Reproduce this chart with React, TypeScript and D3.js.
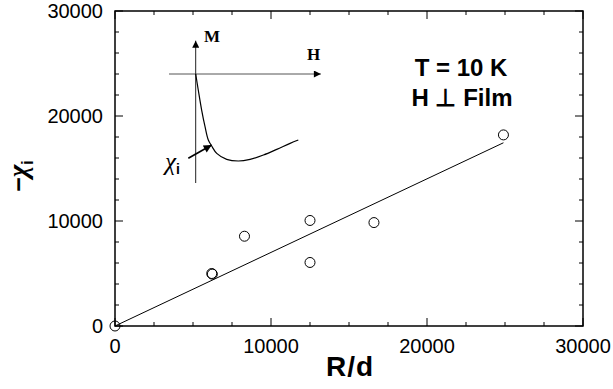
import * as d3 from "d3";
import React, { useEffect, useRef } from "react";

// measured points (R/d, -chi_i)
const rdValues = [0, 6200, 6240, 8300, 12500, 12500, 16600, 24900];
const chiValues = [0, 5000, 4940, 8550, 10050, 6050, 9850, 18200];

// linear fit drawn through the data
const fitRd = [0, 24900];
const fitChi = [0, 17450];

const xTicksMajor = [0, 10000, 20000, 30000];
const yTicksMajor = [0, 10000, 20000, 30000];

// inset sketch: M(H) curve in arbitrary units
const insetH = [0, 0.025, 0.058, 0.091, 0.123, 0.156, 0.205, 0.302, 0.416, 0.53, 0.66, 0.79, 0.92, 1.0];
const insetM = [0, -0.184, -0.414, -0.606, -0.759, -0.828, -0.912, -0.981, -1.0, -0.981, -0.931, -0.866, -0.797, -0.759];

const App: React.FC = () => {
  const ref = useRef<SVGSVGElement>(null);

  useEffect(() => {
    const svg = d3.select(ref.current).html("");

    const left = 115, right = 583, top = 11, bottom = 326;
    const x = d3.scaleLinear().domain([0, 30000]).range([left, right]);
    const y = d3.scaleLinear().domain([0, 30000]).range([bottom, top]);

    const minorX = d3.range(0, 30001, 2500);
    const minorY = d3.range(0, 30001, 2000);

    const font = "'Liberation Sans', Arial, sans-serif";
    const serif = "'Liberation Serif', 'Times New Roman', serif";

    // frame
    svg.append("rect")
      .attr("x", left).attr("y", top)
      .attr("width", right - left).attr("height", bottom - top)
      .attr("fill", "none").attr("stroke", "#000").attr("stroke-width", 1.5);

    const ticks = svg.append("g").attr("stroke", "#000").attr("stroke-width", 1);
    minorX.forEach((v) => {
      const len = v % 10000 === 0 ? 8 : 4;
      ticks.append("line").attr("x1", x(v)).attr("x2", x(v)).attr("y1", bottom).attr("y2", bottom - len);
      ticks.append("line").attr("x1", x(v)).attr("x2", x(v)).attr("y1", top).attr("y2", top + len);
    });
    minorY.forEach((v) => {
      const len = v % 10000 === 0 ? 8 : 4;
      ticks.append("line").attr("x1", left).attr("x2", left + len).attr("y1", y(v)).attr("y2", y(v));
      ticks.append("line").attr("x1", right).attr("x2", right - len).attr("y1", y(v)).attr("y2", y(v));
    });

    // tick labels
    svg.append("g").selectAll("text").data(xTicksMajor).enter().append("text")
      .attr("x", (d) => x(d)).attr("y", 353)
      .attr("text-anchor", "middle")
      .attr("font-family", font).attr("font-size", 20)
      .text((d) => String(d));

    svg.append("g").selectAll("text").data(yTicksMajor).enter().append("text")
      .attr("x", 103).attr("y", (d) => y(d) + 7)
      .attr("text-anchor", "end")
      .attr("font-family", font).attr("font-size", 20)
      .text((d) => String(d));

    // axis titles
    svg.append("text")
      .attr("x", 350).attr("y", 376)
      .attr("text-anchor", "middle")
      .attr("font-family", font).attr("font-size", 28).attr("font-weight", "bold")
      .attr("letter-spacing", 1)
      .text("R/d");

    const yl = svg.append("text")
      .attr("transform", "translate(27,176) rotate(-90)")
      .attr("text-anchor", "middle")
      .attr("font-family", font).attr("font-size", 25).attr("font-weight", "bold");
    yl.append("tspan").text("−");
    yl.append("tspan").attr("font-family", serif).attr("font-style", "italic").attr("font-size", 27).text("χ");
    yl.append("tspan").attr("font-size", 16).attr("dy", 6).text("i");

    // annotations
    svg.append("text")
      .attr("x", 461).attr("y", 76)
      .attr("text-anchor", "middle")
      .attr("font-family", font).attr("font-size", 24).attr("font-weight", "bold")
      .text("T = 10 K");
    svg.append("text")
      .attr("x", 462).attr("y", 106)
      .attr("text-anchor", "middle")
      .attr("font-family", font).attr("font-size", 24).attr("font-weight", "bold")
      .text("H ⊥ Film");

    // fit line
    const line = d3.line<number>().x((d) => x(fitRd[d])).y((d) => y(fitChi[d]));
    svg.append("path")
      .attr("d", line(fitRd.map((_, i) => i)))
      .attr("fill", "none").attr("stroke", "#000").attr("stroke-width", 1);

    // data points
    svg.append("g").selectAll("circle").data(rdValues).enter().append("circle")
      .attr("cx", (d) => x(d)).attr("cy", (_, i) => y(chiValues[i]))
      .attr("r", 5)
      .attr("fill", "none").attr("stroke", "#000").attr("stroke-width", 1);

    // inset
    const ix = d3.scaleLinear().domain([0, 1]).range([195.7, 298.3]);
    const iy = d3.scaleLinear().domain([0, -1]).range([74, 161]);

    const defs = svg.append("defs");
    defs.append("marker")
      .attr("id", "ah").attr("viewBox", "0 0 10 10")
      .attr("refX", 10).attr("refY", 5)
      .attr("markerWidth", 9).attr("markerHeight", 7)
      .attr("markerUnits", "userSpaceOnUse")
      .attr("orient", "auto")
      .append("path").attr("d", "M0,0L10,5L0,10Z").attr("fill", "#000");

    const inset = svg.append("g");
    inset.append("line")
      .attr("x1", ix(-0.26)).attr("x2", ix(1.22)).attr("y1", iy(0)).attr("y2", iy(0))
      .attr("stroke", "#555").attr("stroke-width", 1).attr("marker-end", "url(#ah)");
    inset.append("line")
      .attr("x1", ix(0)).attr("x2", ix(0)).attr("y1", iy(-1.253)).attr("y2", iy(0.383))
      .attr("stroke", "#222").attr("stroke-width", 1).attr("marker-end", "url(#ah)");

    const curve = d3.line<number>()
      .x((d) => ix(insetH[d])).y((d) => iy(insetM[d]))
      .curve(d3.curveCatmullRom);
    inset.append("path")
      .attr("d", curve(insetH.map((_, i) => i)))
      .attr("fill", "none").attr("stroke", "#000").attr("stroke-width", 1.2);

    defs.append("marker")
      .attr("id", "ah2").attr("viewBox", "0 0 10 10")
      .attr("refX", 10).attr("refY", 5)
      .attr("markerWidth", 12).attr("markerHeight", 8)
      .attr("markerUnits", "userSpaceOnUse")
      .attr("orient", "auto")
      .append("path").attr("d", "M0,0L10,5L0,10Z").attr("fill", "#000");
    inset.append("line")
      .attr("x1", ix(-0.072)).attr("y1", iy(-0.969))
      .attr("x2", ix(0.156)).attr("y2", iy(-0.816))
      .attr("stroke", "#000").attr("stroke-width", 1.6).attr("marker-end", "url(#ah2)");

    inset.append("text")
      .attr("x", 204).attr("y", 42)
      .attr("font-family", serif)
      .attr("font-size", 17).attr("font-weight", "bold")
      .text("M");
    inset.append("text")
      .attr("x", 307).attr("y", 60)
      .attr("font-family", serif)
      .attr("font-size", 17).attr("font-weight", "bold")
      .text("H");

    const chi = inset.append("text")
      .attr("x", 165).attr("y", 170)
      .attr("font-family", serif).attr("font-size", 25);
    chi.append("tspan").attr("font-style", "italic").text("χ");
    chi.append("tspan").attr("font-family", font).attr("font-size", 14).attr("font-weight", "bold").attr("dy", 4).text("i");
  }, []);

  return (
    <svg
      ref={ref}
      width={613}
      height={389}
      style={{ position: "absolute", left: 0, top: 0, background: "#fff" }}
    ></svg>
  );
};

export default App;
